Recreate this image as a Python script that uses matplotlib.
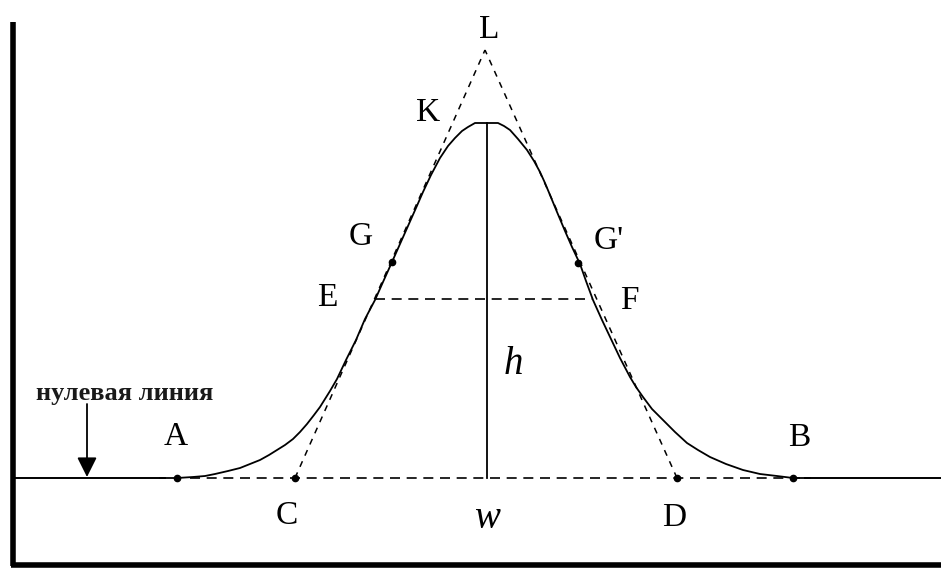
import matplotlib
matplotlib.use("Agg")
import matplotlib.pyplot as plt

# --- data (pixel-like diagram coordinates, y grows downward) ---
curve_x = [160, 177, 193, 205, 215, 228, 240, 250, 260, 269, 277, 285, 293, 300,
           307, 314, 320, 325, 330, 337, 346, 356, 365, 375, 383, 392, 400, 408,
           416, 423, 431, 440, 448, 455, 462, 468, 475,
           498, 504, 510, 518, 527, 534, 540, 545, 550, 557, 565, 572, 580, 586,
           593, 602, 611, 620, 630, 636, 643, 652, 663, 675, 687, 698, 710, 726,
           743, 760, 777, 793, 810]
curve_y = [478, 478, 477, 476, 474, 471, 468, 464, 460, 455, 450, 445, 439, 432,
           424, 415, 407, 399, 391, 379, 360, 340, 319, 300, 282, 262, 244, 226,
           208, 192, 175, 158, 146, 138, 131, 127, 123,
           123, 126, 130, 139, 150, 161, 172, 183, 195, 212, 231, 247, 264, 281,
           300, 320, 339, 358, 377, 387, 397, 409, 420, 432, 443, 450, 457, 464,
           470, 474, 476, 478, 478]

baseline_y = 478
peak_x, peak_y = 487, 123
apex_L = (485, 50)
half_y = 299
half_x = [375, 592]
point_names = ["A", "B", "C", "D", "G", "G'"]
point_x = [177, 793, 295, 677, 392, 578]
point_y = [478, 478, 478, 478, 262, 263]

labels = ["L", "K", "G", "G'", "E", "F", "A", "B", "C", "D"]
label_x = [489, 428, 361, 609, 327, 629, 176, 799, 287, 674]
label_y = [30, 113, 237, 241, 298, 301, 437, 438, 516, 518]

W, H = 941, 569
fig = plt.figure(figsize=(W / 100, H / 100), dpi=100)
ax = fig.add_axes([0, 0, 1, 1])
ax.set_xlim(0, W)
ax.set_ylim(H, 0)
ax.axis("off")

# frame axes (thick)
ax.plot([13, 13], [22, 566], color="black", lw=4, solid_capstyle="butt")
ax.plot([11, W], [565, 565], color="black", lw=4, solid_capstyle="butt")

# baseline: solid outside the peak, dashed under it
ax.plot([15, 165], [baseline_y, baseline_y], color="black", lw=1.4)
ax.plot([805, W], [baseline_y, baseline_y], color="black", lw=1.4)
ax.plot([190, 805], [baseline_y, baseline_y], color="black", lw=1.2,
        linestyle=(0, (6, 4)))

# peak curve
ax.plot(curve_x, curve_y, color="black", lw=1.3, solid_joinstyle="round")

# peak height line h
ax.plot([peak_x, peak_x], [peak_y, baseline_y], color="black", lw=1.3)

# half height line E-F
ax.plot(half_x, [half_y, half_y], color="black", lw=1.2, linestyle=(0, (6, 4)))

# tangents C-L and D-L
ax.plot([point_x[2], apex_L[0]], [point_y[2], apex_L[1]], color="black",
        lw=1.1, linestyle=(0, (4, 4)))
ax.plot([point_x[3], apex_L[0]], [point_y[3], apex_L[1]], color="black",
        lw=1.1, linestyle=(0, (4, 4)))

# points
ax.plot(point_x, point_y, "o", color="black", ms=4.5, mfc="black")

# letter labels
for t, x, y in zip(labels, label_x, label_y):
    ax.text(x, y, t, fontsize=24, family="Liberation Serif", ha="center",
            va="center")
ax.text(513, 364, "h", fontsize=28, family="Liberation Serif", style="italic",
        ha="center", va="center")
ax.text(487, 519, "w", fontsize=28, family="Liberation Serif", style="italic",
        ha="center", va="center")

# zero-line annotation
ax.text(125, 393, "нулевая линия", fontsize=19, family="Liberation Serif",
        fontweight="bold", color="#1a1a1a", ha="center", va="center")
ax.annotate("", xy=(87, 477), xytext=(87, 404),
            arrowprops=dict(arrowstyle="-|>", color="black", lw=1.3,
                            mutation_scale=30, shrinkA=0, shrinkB=0))

fig.savefig("out.png", dpi=100)
